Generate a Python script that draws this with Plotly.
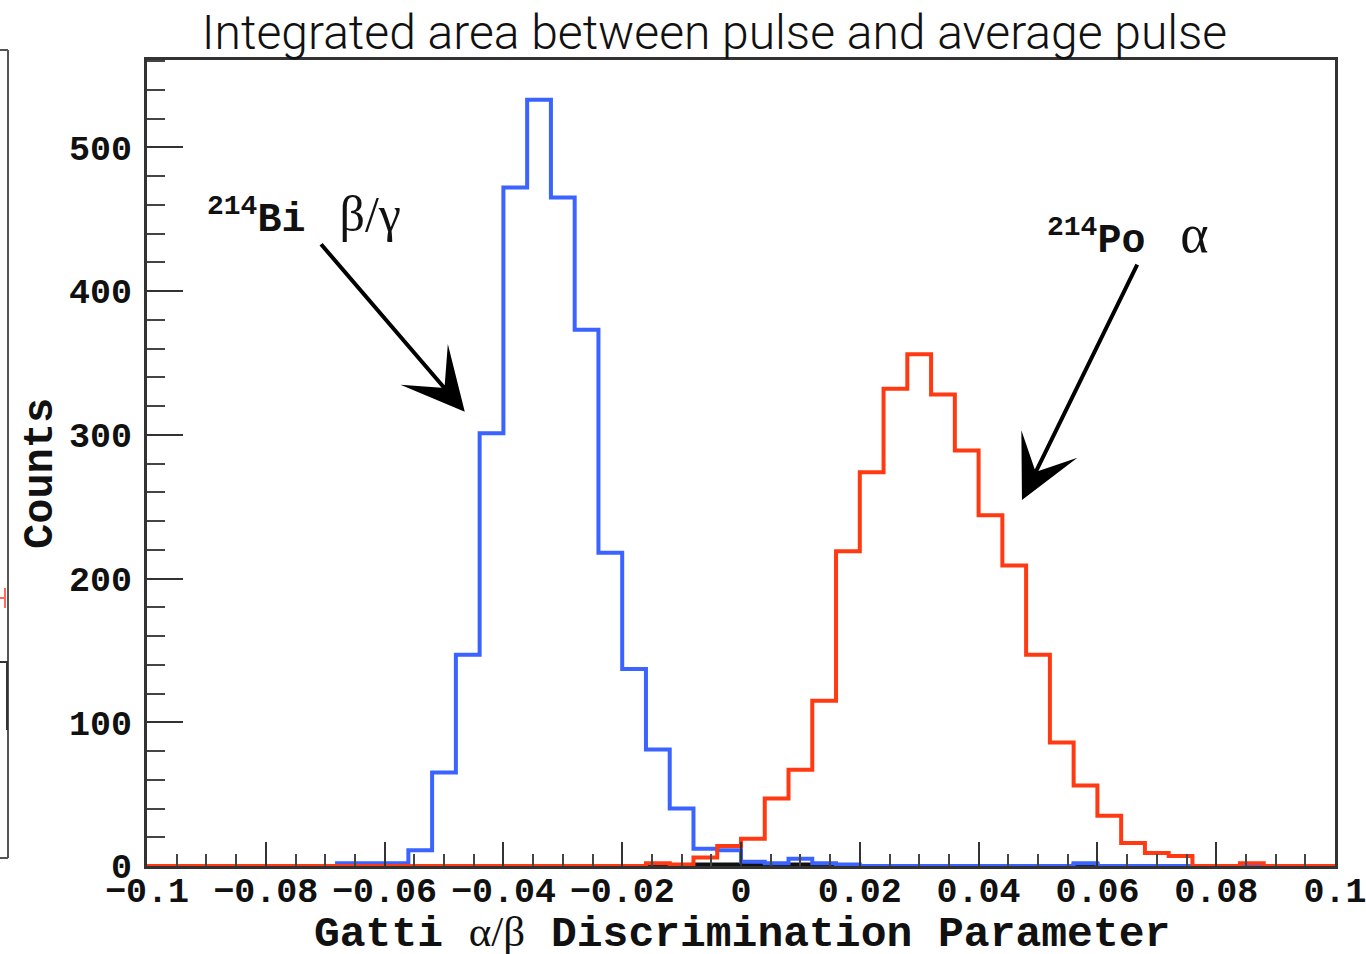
import plotly.graph_objects as go

# ---------------- data ----------------
bin_lo = -0.1
bin_width = 0.004
n_bins = 50

bi_counts = [0, 0, 0, 0, 0, 0, 0, 0,
             2, 2, 2, 11, 65, 147, 301, 472, 533, 465, 373, 218, 137, 81, 40,
             12, 11, 3, 2, 5, 2, 1,
             0, 0, 0, 0, 0, 0, 0, 0, 0,
             2,
             0, 0, 0, 0, 0, 0, 0, 0, 0, 0]

po_counts = [0] * 21 + [2, 1, 6, 14, 19, 47, 67, 115, 219, 274, 332, 356, 328,
                        289, 244, 209, 147, 86, 56, 35, 16, 9, 7,
                        0, 0, 2, 0, 0, 0]

other_counts = [0] * 21 + [1, 0, 1, 1, 1, 0, 1] + [0] * 11 + [1] + [0] * 10

x_tickvals = [-0.1, -0.08, -0.06, -0.04, -0.02, 0, 0.02, 0.04, 0.06, 0.08, 0.1]
x_ticktext = ["\u22120.1", "\u22120.08", "\u22120.06", "\u22120.04", "\u22120.02",
              "0", "0.02", "0.04", "0.06", "0.08", "0.1"]
y_tickvals = [0, 100, 200, 300, 400, 500]

title_text = "Integrated area between pulse and average pulse"
x_title = ("Gatti <span style=\"font-family:'Liberation Serif';font-weight:normal\">"
           "\u03b1/\u03b2</span> Discrimination Parameter")
y_title = "Counts"
bi_label = ("<sup>214</sup>Bi <span style=\"font-family:'Liberation Serif';"
            "font-weight:normal;font-size:50px\">\u2009\u03b2/\u03b3</span>")
po_label = ("<sup>214</sup>Po <span style=\"font-family:'Liberation Serif';"
            "font-weight:normal;font-size:54px\">\u2009\u03b1</span>")

edges = [bin_lo + bin_width * i for i in range(n_bins + 1)]

MONO = "Liberation Mono, Courier New, monospace"
BLUE = "#3a63ff"
RED = "#ff3a12"


def step_trace(counts, color, width, name):
    return go.Scatter(x=edges, y=list(counts) + [counts[-1]], mode="lines",
                      line=dict(shape="hv", color=color, width=width),
                      name=name, showlegend=False, hoverinfo="skip")


fig = go.Figure()
fig.add_trace(step_trace(other_counts, "#111111", 4, "other"))
fig.add_trace(step_trace(bi_counts, BLUE, 4, "214Bi"))
fig.add_trace(step_trace(po_counts, RED, 4, "214Po"))

fig.update_layout(
    width=1366, height=954,
    margin=dict(l=147, r=31, t=60, b=88, autoexpand=False),
    paper_bgcolor="white", plot_bgcolor="white",
    title=dict(text=title_text, x=(714.5 - 147) / 1188, xref="paper", xanchor="center",
               y=1 - 32 / 954, yref="container", yanchor="middle",
               font=dict(family="Roboto", size=48, color="#111111", weight=300)),
    font=dict(family=MONO, color="#111111"),
)

fig.update_xaxes(
    range=[-0.1, 0.1], showgrid=False, zeroline=False, automargin=False,
    showline=True, linecolor="#333333", linewidth=3, mirror=True,
    tickmode="array", tickvals=x_tickvals, ticktext=x_ticktext,
    ticks="inside", ticklen=24, tickwidth=2, tickcolor="#333333",
    tickfont=dict(family=MONO, size=35, weight="bold", color="#111111"),
    ticklabelstandoff=-9, ticklabeloverflow="allow",
    minor=dict(tickmode="linear", tick0=-0.1, dtick=0.005, ticks="inside",
               ticklen=12, tickwidth=2, tickcolor="#444444"),
)

fig.update_yaxes(
    range=[0, 560.7], showgrid=False, zeroline=False, automargin=False,
    showline=True, linecolor="#333333", linewidth=3, mirror=True,
    tickmode="array", tickvals=y_tickvals,
    ticks="inside", ticklen=36, tickwidth=2, tickcolor="#333333",
    tickfont=dict(family=MONO, size=35, weight="bold", color="#111111"),
    ticklabelstandoff=5, ticklabeloverflow="allow",
    minor=dict(tickmode="linear", tick0=0, dtick=20, ticks="inside",
               ticklen=18, tickwidth=2, tickcolor="#444444"),
)

# axis titles placed as annotations
fig.add_annotation(x=(742 - 147) / 1188, y=(866 - 933) / 806, xref="paper", yref="paper",
                   text=x_title, showarrow=False, xanchor="center", yanchor="middle",
                   font=dict(family=MONO, size=43, weight="bold", color="#111111"))
fig.add_annotation(x=(41 - 147) / 1188, y=(866 - 474) / 806, xref="paper", yref="paper",
                   text=y_title, textangle=-90, showarrow=False,
                   xanchor="center", yanchor="middle",
                   font=dict(family=MONO, size=42, weight="bold", color="#111111"))

# labels
fig.add_annotation(x=-0.0902, y=453, xref="x", yref="y", text=bi_label,
                   showarrow=False, xanchor="left", yanchor="middle",
                   font=dict(family=MONO, size=40, weight="bold", color="#111111"))
fig.add_annotation(x=0.0512, y=440, xref="x", yref="y", text=po_label,
                   showarrow=False, xanchor="left", yanchor="middle",
                   font=dict(family=MONO, size=40, weight="bold", color="#111111"))

# arrows
fig.add_annotation(x=-0.0465, y=316, xref="x", yref="y", text="", showarrow=True,
                   ax=-145, ay=-169, arrowhead=3, arrowsize=2.6, arrowwidth=4,
                   arrowcolor="#000000", standoff=0)
fig.add_annotation(x=0.0473, y=254.6, xref="x", yref="y", text="", showarrow=True,
                   ax=116, ay=-237, arrowhead=3, arrowsize=2.6, arrowwidth=4,
                   arrowcolor="#000000", standoff=0)

# fragment of the neighbouring panel at the left edge
def px_x(px):
    return (px - 147) / 1188


def px_y(py):
    return (866 - py) / 806


frag = [
    ((0, 50), (8, 50), "#555555"),
    ((8, 50), (8, 858), "#555555"),
    ((0, 858), (8, 858), "#555555"),
    ((0, 598), (6, 598), "#ff6a5a"),
    ((5, 588), (5, 608), "#ff6a5a"),
    ((0, 662), (8, 662), "#333333"),
    ((7, 662), (7, 730), "#333333"),
]
for (x0, y0), (x1, y1), col in frag:
    fig.add_shape(type="line", xref="paper", yref="paper",
                  x0=px_x(x0), y0=px_y(y0), x1=px_x(x1), y1=px_y(y1),
                  line=dict(color=col, width=2))

fig.write_html("out.html")
